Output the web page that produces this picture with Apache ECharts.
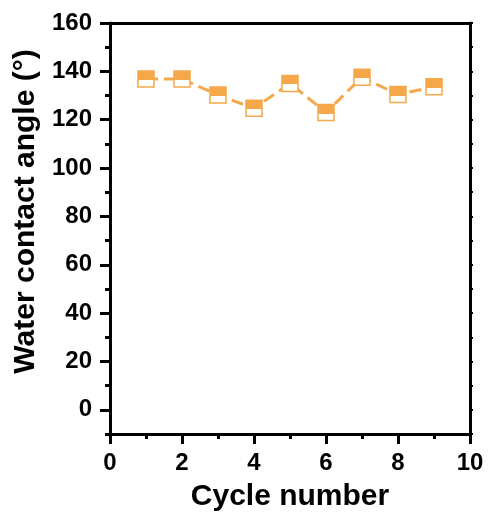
<!DOCTYPE html>
<html>
<head>
<meta charset="utf-8">
<script src="https://cdn.jsdelivr.net/npm/echarts@6/dist/echarts.min.js"></script>
<style>html,body{margin:0;padding:0;background:#fff}#c{width:488px;height:522px}</style>
</head>
<body>
<div id="c"></div>
<script>
var cycles = [1, 2, 3, 4, 5, 6, 7, 8, 9];
var angles = [136.8, 136.8, 130.2, 124.7, 135.0, 123.0, 137.6, 130.4, 133.6];
var yMajorTicks = [0, 20, 40, 60, 80, 100, 120, 140, 160];
var yMinorTicks = [-10, 10, 30, 50, 70, 90, 110, 130, 150];
var xTitle = 'Cycle number';
var yTitle = 'Water contact angle (°)';

var orange = '#F4A84A';
var font = '"Liberation Sans", Arial, sans-serif';
var narrow = '"Liberation Sans Narrow", "Arial Narrow", "Liberation Sans", sans-serif';
var chart = echarts.init(document.getElementById('c'));
var axisLine = { show: true, onZero: false, lineStyle: { color: '#000', width: 3 } };
chart.setOption({
  animation: false,
  grid: { left: 110, right: 18, top: 23, bottom: 88 },
  xAxis: [{
    type: 'value', min: 0, max: 10, interval: 2, position: 'bottom',
    axisLine: axisLine,
    axisTick: { show: true, length: 10, lineStyle: { color: '#000', width: 3 } },
    minorTick: { show: true, splitNumber: 2, length: 5, lineStyle: { color: '#000', width: 3 } },
    splitLine: { show: false }, minorSplitLine: { show: false },
    axisLabel: { margin: 17, color: '#000', fontFamily: narrow, fontWeight: 'bold', fontSize: 24 },
    name: xTitle, nameLocation: 'middle', nameGap: 48,
    nameTextStyle: { color: '#000', fontFamily: font, fontWeight: 'bold', fontSize: 30 }
  }, {
    type: 'value', min: 0, max: 10, interval: 1, position: 'top',
    axisLine: axisLine,
    axisTick: { show: true, inside: true, length: 2, lineStyle: { color: '#000', width: 2 } },
    axisLabel: { show: false }, splitLine: { show: false }
  }],
  yAxis: [{
    type: 'value', min: -10, max: 160, position: 'left',
    axisLine: axisLine,
    axisTick: { show: true, length: 10, customValues: yMajorTicks, lineStyle: { color: '#000', width: 3 } },
    axisLabel: { margin: 18, customValues: yMajorTicks, color: '#000', fontFamily: narrow, fontWeight: 'bold', fontSize: 24 },
    splitLine: { show: false },
    name: yTitle, nameLocation: 'middle', nameGap: 60,
    nameTextStyle: { color: '#000', fontFamily: font, fontWeight: 'bold', fontSize: 30, padding: [0, 0, 0, 34] }
  }, {
    type: 'value', min: -10, max: 160, position: 'left',
    axisLine: { show: false },
    axisTick: { show: true, length: 5, customValues: yMinorTicks, lineStyle: { color: '#000', width: 3 } },
    axisLabel: { show: false }, splitLine: { show: false }
  }, {
    type: 'value', min: -10, max: 160, position: 'right',
    axisLine: axisLine,
    axisTick: { show: true, length: 3, customValues: yMajorTicks.concat(yMinorTicks), lineStyle: { color: '#000', width: 2 } },
    axisLabel: { show: false }, splitLine: { show: false }
  }],
  series: [{
    type: 'line',
    data: cycles.map(function (c, i) { return [c, angles[i]]; }),
    symbol: 'rect', symbolSize: 16,
    lineStyle: { color: orange, width: 3, type: [12, 6] },
    itemStyle: {
      color: { type: 'linear', x: 0, y: 0, x2: 0, y2: 1, colorStops: [
        { offset: 0, color: orange }, { offset: 0.56, color: orange },
        { offset: 0.56, color: '#fff' }, { offset: 1, color: '#fff' }] },
      borderColor: orange, borderWidth: 1.5
    },
    z: 5
  }]
});
</script>
</body>
</html>
